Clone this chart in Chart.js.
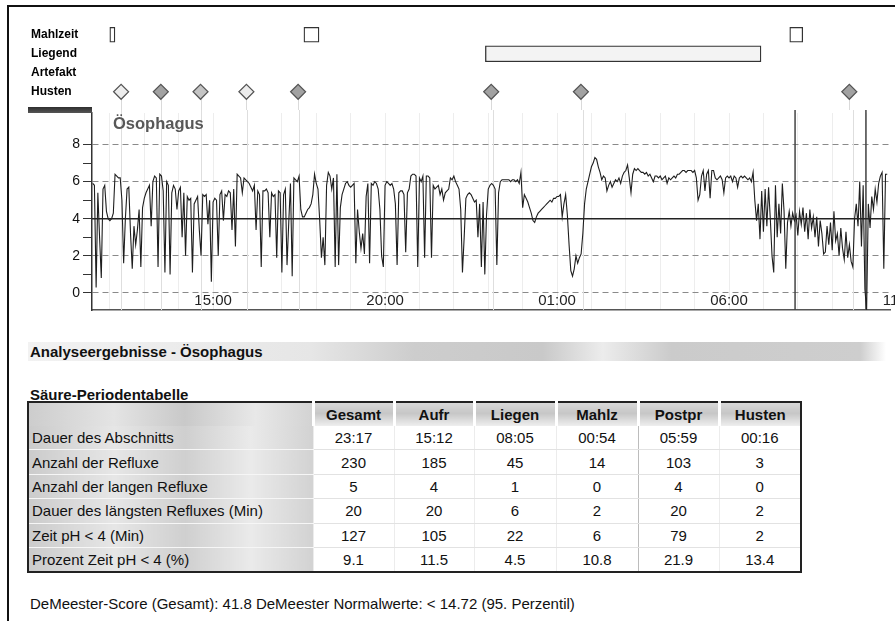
<!DOCTYPE html>
<html lang="de">
<head>
<meta charset="utf-8">
<title>pH-Metrie Ösophagus</title>
<script src="https://cdn.jsdelivr.net/npm/chart.js@4.4.1/dist/chart.umd.min.js"></script>
<style>
  html, body { margin: 0; padding: 0; background: #fff; overflow: hidden; }
  body { width: 895px; height: 621px; position: relative; font-family: "Liberation Sans", Arial, sans-serif; color: #111; }
  #frameTop { position: absolute; left: 7px; top: 5px; width: 888px; height: 2px; background: #111; }
  #frameLeft { position: absolute; left: 7px; top: 5px; width: 2px; height: 616px; background: #111; }
  #events { position: absolute; left: 0; top: 0; }
  #ph { position: absolute; left: 0; top: 110px; }
  #darkBar { position: absolute; left: 28px; top: 107px; width: 64px; height: 6px; background: linear-gradient(#2e2e2e, #555); }
  #phTitle { position: absolute; left: 113px; top: 114px; font-weight: bold; font-size: 16.5px; color: #585858; }
  #resultBand { position: absolute; left: 28px; top: 342px; width: 858px; height: 19px;
    background: linear-gradient(to right, #f2f2f2 0%, #e6e6e6 33%, #cdcdcd 45%, #c9c9c9 60%, #ececec 67%, #cbcbcb 75%, #cecece 97%, #fff 100%); }
  .heading { position: absolute; left: 30px; font-weight: bold; font-size: 15px; }
  #resultTitle { top: 343px; }
  #tableTitle { top: 386px; }
  #acidTable { position: absolute; left: 27px; top: 401px; width: 773px; border-collapse: collapse; table-layout: fixed;
    border: 2px solid #222; font-size: 15px; }
  #acidTable th, #acidTable td { padding: 0; text-align: center; white-space: nowrap; overflow: hidden; }
  #acidTable th { height: 23px; font-weight: bold; border-left: 3px solid #fff;
    background: linear-gradient(to bottom, #d9d9d9, #c6c6c6 45%, #eeeeee); }
  #acidTable th.corner { border-left: none;
    background: linear-gradient(to right, #cdcdcd, #e4e4e4 30%, #c9c9c9 55%, #e8e8e8 80%, #d3d3d3); }
  #acidTable td { height: 23.4px; border-bottom: 1px solid #e2e2e2; border-left: 1px solid #ececec; }
  #acidTable td.lbl { text-align: left; padding-left: 3px; border-left: none; border-bottom: 1px solid #f6f6f6;
    background: linear-gradient(to right, #cbcbcb, #e6e6e6 30%, #cfcfcf 55%, #eaeaea 78%, #d2d2d2); }
  #acidTable td.sep { border-left: 1px solid #bcbcbc; }
  #demeester { position: absolute; left: 30px; top: 595px; font-size: 15px; }
</style>
</head>
<body>
<canvas id="events" width="895" height="110"></canvas>
<canvas id="ph" width="895" height="210"></canvas>
<div id="frameTop"></div>
<div id="frameLeft"></div>
<div id="darkBar"></div>
<div id="phTitle">Ösophagus</div>
<div id="resultBand"></div>
<div id="resultTitle" class="heading">Analyseergebnisse - Ösophagus</div>
<div id="tableTitle" class="heading">Säure-Periodentabelle</div>
<table id="acidTable">
  <colgroup>
    <col style="width:285px"><col style="width:81px"><col style="width:80px"><col style="width:82px">
    <col style="width:82px"><col style="width:81px"><col style="width:82px">
  </colgroup>
  <thead></thead>
  <tbody></tbody>
</table>
<div id="demeester"></div>

<script>
// event rows above the trace (times in hours, >24 = next day)
const eventRows = ["Mahlzeit", "Liegend", "Artefakt", "Husten"];
const mahlzeitStart = [12.0, 17.67, 31.86];
const mahlzeitEnd = [12.15, 18.11, 32.24];
const liegendStart = [22.97];
const liegendEnd = [31.02];
const hustenHours = [12.33, 13.49, 14.65, 15.99, 17.5, 23.14, 25.76, 33.6];
const markerHours = [31.92, 33.98];

// axes
const xMin = 11.48;
const xMax = 34.68;
const gridHours = [12, 13, 14, 15, 16, 17, 18, 19, 20, 21, 22, 23, 24, 25, 26, 27, 28, 29, 30, 31, 32, 33, 34, 35];
const labelHours = [15, 20, 25, 30, 35];
const yMin = -0.92;
const yMax = 9.7;
const yTicks = [0, 1, 2, 3, 4, 5, 6, 7, 8];
const yLabels = [0, 2, 4, 6, 8];
const refPh = 4;

// pH trace, one reading every 3 min from 11:30, one row per hour
const phStartHour = 11.5;
const phStepMin = 3;
const phValues = [
  5.9, 5.8, 0.3, 5.4, 3.0, 0.8, 5.6, 5.8, 4.4, 4.0, 3.9, 4.0, 4.3, 6.4, 6.3, 6.2, 6.2, 5.0, 1.6, 4.0,
  5.6, 5.7, 3.2, 1.3, 3.6, 2.6, 3.4, 4.5, 1.4, 4.6, 5.1, 5.4, 5.6, 5.8, 3.6, 6.0, 6.3, 6.2, 1.4, 6.4,
  6.3, 5.5, 1.1, 6.0, 5.8, 1.0, 5.4, 5.8, 5.6, 4.5, 5.5, 5.7, 3.0, 5.4, 2.0, 5.2, 5.0, 5.1, 1.1, 4.8,
  5.0, 5.2, 3.4, 2.0, 5.3, 5.2, 5.3, 3.7, 5.0, 0.6, 4.9, 5.1, 5.0, 2.0, 5.3, 5.5, 3.9, 5.3, 5.2, 5.5,
  5.4, 3.4, 5.6, 2.5, 6.4, 6.3, 6.2, 5.4, 6.2, 6.1, 6.0, 5.9, 5.7, 5.5, 5.8, 3.4, 5.5, 5.3, 1.4, 5.5,
  5.5, 5.6, 5.4, 3.0, 5.4, 5.2, 5.3, 1.9, 5.5, 5.4, 1.1, 5.3, 5.6, 1.5, 3.8, 5.9, 0.9, 6.2, 6.1, 6.0,
  6.3, 4.5, 4.1, 4.1, 4.3, 4.5, 4.6, 4.8, 5.3, 6.4, 5.9, 5.6, 3.9, 1.9, 3.0, 1.5, 5.8, 6.5, 6.3, 5.6,
  6.2, 1.4, 6.4, 1.5, 4.6, 5.3, 5.6, 5.9, 6.0, 5.8, 5.7, 5.8, 5.9, 1.6, 4.5, 3.3, 2.4, 3.2, 2.1, 5.2,
  5.9, 1.6, 5.9, 5.8, 6.0, 5.9, 5.6, 4.5, 2.0, 1.4, 5.8, 6.0, 5.9, 5.8, 5.9, 5.6, 4.8, 1.5, 5.4, 5.5,
  5.5, 5.3, 2.2, 5.4, 5.6, 6.3, 6.4, 6.4, 6.3, 1.4, 6.2, 6.0, 6.3, 1.9, 6.3, 6.3, 6.2, 1.9, 5.8, 5.6,
  5.7, 5.8, 5.3, 5.6, 5.0, 5.4, 5.5, 5.6, 6.2, 6.1, 6.3, 6.0, 5.8, 5.6, 4.5, 1.1, 3.0, 5.1, 5.3, 5.4,
  5.3, 5.1, 4.9, 5.0, 3.0, 4.8, 1.4, 4.9, 1.0, 4.2, 5.6, 5.8, 5.9, 5.8, 5.6, 1.5, 5.4, 6.0, 6.1, 6.1,
  6.1, 6.1, 6.1, 6.0, 6.1, 6.1, 6.0, 6.1, 5.9, 6.5, 4.6, 5.3, 5.1, 4.9, 4.6, 4.3, 3.9, 3.8, 4.1, 4.3,
  4.4, 4.5, 4.6, 4.7, 4.8, 4.9, 5.0, 4.9, 5.1, 5.1, 5.2, 5.2, 5.3, 4.1, 4.8, 5.3, 4.2, 2.6, 1.2, 0.9,
  1.3, 2.0, 1.6, 1.9, 2.1, 3.2, 4.8, 5.6, 6.0, 6.4, 6.8, 7.0, 7.3, 7.2, 6.8, 6.5, 6.1, 6.3, 6.2, 5.5,
  5.8, 6.0, 5.7, 5.9, 6.1, 6.0, 6.2, 5.9, 6.3, 6.5, 6.6, 6.9, 6.2, 5.4, 6.4, 6.7, 6.6, 6.7, 6.6, 6.5,
  6.5, 6.4, 6.5, 6.3, 6.4, 6.2, 6.0, 6.3, 6.3, 6.2, 6.3, 6.1, 6.2, 6.3, 5.9, 6.2, 6.1, 6.2, 6.3, 6.2,
  6.4, 6.4, 6.5, 6.6, 6.6, 6.5, 6.6, 6.6, 6.6, 6.5, 6.6, 6.2, 5.0, 5.3, 6.3, 6.6, 5.5, 6.4, 6.6, 5.1,
  6.6, 6.6, 6.2, 6.1, 6.2, 6.3, 6.1, 5.4, 6.2, 6.3, 6.2, 6.3, 6.0, 6.3, 6.2, 5.7, 6.2, 6.3, 6.2, 6.3,
  6.2, 6.1, 6.2, 6.0, 6.5, 5.0, 3.9, 4.8, 2.9, 5.5, 3.3, 5.6, 3.6, 5.7, 4.0, 2.0, 1.1, 5.8, 3.0, 4.8,
  3.2, 5.9, 4.4, 1.3, 3.8, 4.4, 3.6, 4.3, 3.9, 4.2, 3.1, 4.4, 3.7, 4.6, 3.3, 4.3, 2.9, 4.5, 3.5, 4.1,
  3.0, 4.1, 2.5, 3.9, 3.2, 2.1, 2.2, 3.6, 2.6, 3.8, 2.3, 4.4, 2.8, 3.2, 2.0, 3.5, 2.4, 1.8, 3.3, 1.9,
  2.6, 1.7, 1.4, 4.0, 4.8, 3.6, 6.0, 2.5, 5.8, 0.2, -0.9, 4.8, 3.5, 5.2, 4.5, 5.6, 4.9, 5.9, 6.3, 6.5,
  1.3, 6.4, 6.4
];

// Säure-Periodentabelle
const tableColumns = ["Gesamt", "Aufr", "Liegen", "Mahlz", "Postpr", "Husten"];
const tableRowLabels = [
  "Dauer des Abschnitts",
  "Anzahl der Refluxe",
  "Anzahl der langen Refluxe",
  "Dauer des längsten Refluxes (Min)",
  "Zeit pH < 4 (Min)",
  "Prozent Zeit pH < 4 (%)"
];
const dauer = ["23:17", "15:12", "08:05", "00:54", "05:59", "00:16"];
const anzahlRefluxe = [230, 185, 45, 14, 103, 3];
const langeRefluxe = [5, 4, 1, 0, 4, 0];
const laengsterReflux = [20, 20, 6, 2, 20, 2];
const zeitUnter4 = [127, 105, 22, 6, 79, 2];
const prozentUnter4 = ["9.1", "11.5", "4.5", "10.8", "21.9", "13.4"];
const demeesterScore = "41.8";
const demeesterNorm = "14.72";

const FONT = "'Liberation Sans', Arial, sans-serif";
Chart.defaults.font.family = FONT;

const hustenFill = ["#ececec", "#a2a2a2", "#c4c4c4", "#ececec", "#a2a2a2", "#a2a2a2", "#a2a2a2", "#a2a2a2"];

function hourLabel(h) {
  const hh = h % 24;
  return (hh < 10 ? "0" : "") + hh + ":00";
}

// faint lines under the cough diamonds
const hustenDrop = {
  id: "hustenDrop",
  beforeDatasetsDraw(chart) {
    const { ctx, scales } = chart;
    const y0 = scales.y.getPixelForValue(eventRows.indexOf("Husten"));
    ctx.save();
    ctx.strokeStyle = "#dadada";
    ctx.lineWidth = 1;
    hustenHours.forEach((h) => {
      const px = Math.round(scales.x.getPixelForValue(h)) + 0.5;
      ctx.beginPath();
      ctx.moveTo(px, y0);
      ctx.lineTo(px, chart.height);
      ctx.stroke();
    });
    ctx.restore();
  }
};

new Chart(document.getElementById("events"), {
  type: "bar",
  data: {
    labels: eventRows,
    datasets: [
      {
        data: mahlzeitStart.map((s, i) => ({ x: [s, mahlzeitEnd[i]], y: "Mahlzeit" })),
        backgroundColor: "#ffffff",
        borderColor: "#333",
        borderWidth: 1.3,
        borderSkipped: false,
        barThickness: 15,
        grouped: false
      },
      {
        data: liegendStart.map((s, i) => ({ x: [s, liegendEnd[i]], y: "Liegend" })),
        backgroundColor: "#f3f3f3",
        borderColor: "#333",
        borderWidth: 1.3,
        borderSkipped: false,
        barThickness: 16,
        grouped: false
      },
      {
        type: "scatter",
        data: hustenHours.map((h) => ({ x: h, y: "Husten" })),
        pointStyle: "rectRot",
        pointRadius: 7.5,
        pointBackgroundColor: hustenFill,
        pointBorderColor: "#555",
        pointBorderWidth: 1.2
      }
    ]
  },
  options: {
    indexAxis: "y",
    responsive: false,
    animation: false,
    devicePixelRatio: 1,
    layout: { padding: { left: 31, right: 5, top: 25.25, bottom: 2.75 } },
    plugins: { legend: { display: false }, tooltip: { enabled: false } },
    scales: {
      x: { type: "linear", min: xMin, max: xMax, display: false },
      y: {
        type: "category",
        offset: true,
        afterFit: (s) => { s.width = 61; s.paddingTop = 0; s.paddingBottom = 0; },
        ticks: { crossAlign: "far", padding: 0, color: "#000", font: { size: 12, weight: "bold" } },
        grid: { display: false },
        border: { display: false }
      }
    }
  },
  plugins: [hustenDrop]
});

// cough and marker lines across the pH panel
const phLines = {
  id: "phLines",
  beforeDatasetsDraw(chart) {
    const { ctx, chartArea, scales } = chart;
    ctx.save();
    ctx.strokeStyle = "#dedede";
    ctx.lineWidth = 1;
    hustenHours.forEach((h) => {
      const px = Math.round(scales.x.getPixelForValue(h)) + 0.5;
      ctx.beginPath();
      ctx.moveTo(px, 0);
      ctx.lineTo(px, chartArea.bottom);
      ctx.stroke();
    });
    ctx.strokeStyle = "#444";
    ctx.lineWidth = 1.5;
    markerHours.forEach((h) => {
      const px = scales.x.getPixelForValue(h);
      ctx.beginPath();
      ctx.moveTo(px, 0);
      ctx.lineTo(px, chartArea.bottom);
      ctx.stroke();
    });
    ctx.restore();
  }
};

const phPoints = phValues.map((v, i) => ({ x: phStartHour + (i * phStepMin) / 60, y: v }));

new Chart(document.getElementById("ph"), {
  type: "line",
  data: {
    datasets: [
      {
        data: phPoints,
        borderColor: "#1e1e1e",
        borderWidth: 1.1,
        pointRadius: 0,
        tension: 0,
        order: 1
      },
      {
        data: [{ x: xMin, y: refPh }, { x: xMax, y: refPh }],
        borderColor: "#222",
        borderWidth: 1.6,
        pointRadius: 0,
        order: 0
      }
    ]
  },
  options: {
    responsive: false,
    animation: false,
    devicePixelRatio: 1,
    layout: { padding: { left: 0, right: 5, top: 3, bottom: 0 } },
    plugins: { legend: { display: false }, tooltip: { enabled: false } },
    scales: {
      x: {
        type: "linear",
        min: xMin,
        max: xMax,
        afterBuildTicks: (s) => { s.ticks = gridHours.map((v) => ({ value: v })); },
        afterFit: (s) => { s.height = 10; s.paddingLeft = 0; s.paddingRight = 0; },
        ticks: {
          autoSkip: false,
          maxRotation: 0,
          mirror: true,
          padding: 0,
          color: "#222",
          font: { size: 15 },
          callback: (v) => (labelHours.includes(v) ? hourLabel(v) : "")
        },
        grid: { drawTicks: false, color: "#ededed", lineWidth: 1 },
        border: { color: "#555", width: 1.5 }
      },
      y: {
        min: yMin,
        max: yMax,
        afterBuildTicks: (s) => { s.ticks = yTicks.map((v) => ({ value: v })); },
        afterFit: (s) => { s.width = 92; s.paddingTop = 0; s.paddingBottom = 0; },
        ticks: {
          autoSkip: false,
          padding: 3,
          color: "#111",
          font: { size: 14 },
          callback: (v) => (yLabels.includes(v) ? String(v) : "")
        },
        grid: {
          color: (ctx) => (ctx.tick && yLabels.includes(ctx.tick.value) ? "#8a8a8a" : "rgba(0,0,0,0)"),
          tickColor: "#333",
          tickLength: 9,
          lineWidth: 1
        },
        border: { color: "#333", width: 1.5, dash: [6, 4] }
      }
    }
  },
  plugins: [phLines]
});

// table
const tableData = [dauer, anzahlRefluxe, langeRefluxe, laengsterReflux, zeitUnter4, prozentUnter4];
const acidTable = document.getElementById("acidTable");
acidTable.querySelector("thead").innerHTML =
  '<tr><th class="corner"></th>' + tableColumns.map((c) => "<th>" + c + "</th>").join("") + "</tr>";
acidTable.querySelector("tbody").innerHTML = tableRowLabels
  .map((label, r) => {
    const cells = tableData[r]
      .map((v, c) => '<td' + (tableColumns[c] === "Postpr" ? ' class="sep"' : "") + ">" + v + "</td>")
      .join("");
    return '<tr><td class="lbl">' + label.replace("<", "&lt;") + "</td>" + cells + "</tr>";
  })
  .join("");

document.getElementById("demeester").textContent =
  "DeMeester-Score (Gesamt): " + demeesterScore + " DeMeester Normalwerte: < " + demeesterNorm + " (95. Perzentil)";
</script>
</body>
</html>
